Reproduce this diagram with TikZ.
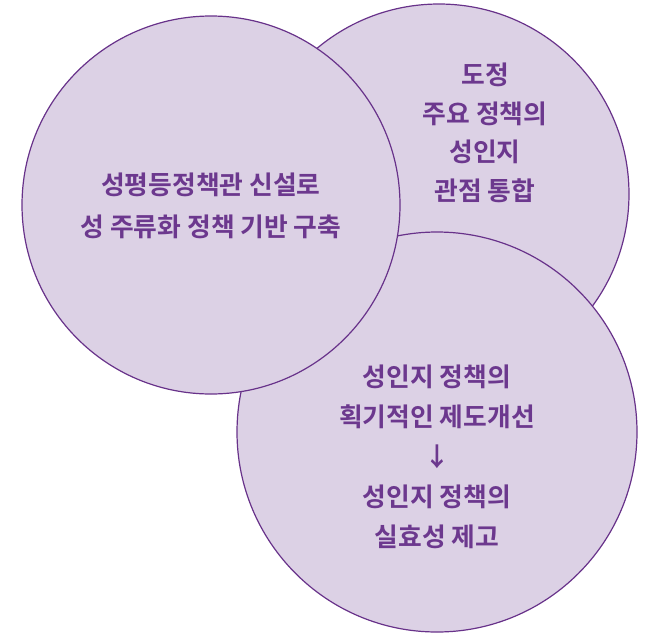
\documentclass[tikz,border=0pt]{standalone}
\usepackage{fontspec}
\newfontfamily\krfont{Noto Sans CJK KR}[BoldFont={Noto Sans CJK KR Bold}]

\definecolor{circfill}{RGB}{220,209,229}
\definecolor{circline}{RGB}{104,50,138}
\definecolor{txtpurple}{RGB}{108,56,142}

\tikzset{
  bubble/.style={circle, draw=circline, fill=circfill, line width=1.2pt, inner sep=0pt},
  bubbletext/.style={align=center, text=txtpurple, inner sep=0pt,
    font=\krfont\bfseries\fontsize{25.8}{#1}\selectfont},
  bubbletext/.default=42
}

\begin{document}
\begin{tikzpicture}[x=1pt,y=-1pt]
\useasboundingbox (0,0) rectangle (645,633);

% circles, back to front
\node[bubble, minimum size=380pt] (right) at (439,194) {};
\node[bubble, minimum size=400pt] (bottom) at (437,432) {};
\node[bubble, minimum size=378pt] (left) at (211,205) {};

% texts
\node[bubbletext] (lefttext) at (211,206)
  {성평등정책관 신설로\\성 주류화 정책 기반 구축};
\node[bubbletext=38.5] (righttext) at (485,133)
  {도정\\주요 정책의\\성인지\\관점 통합};
\node[bubbletext=40] (bottomtext) at (437,457)
  {성인지 정책의\\획기적인 제도개선\\↓\\성인지 정책의\\실효성 제고};
\end{tikzpicture}
\end{document}
